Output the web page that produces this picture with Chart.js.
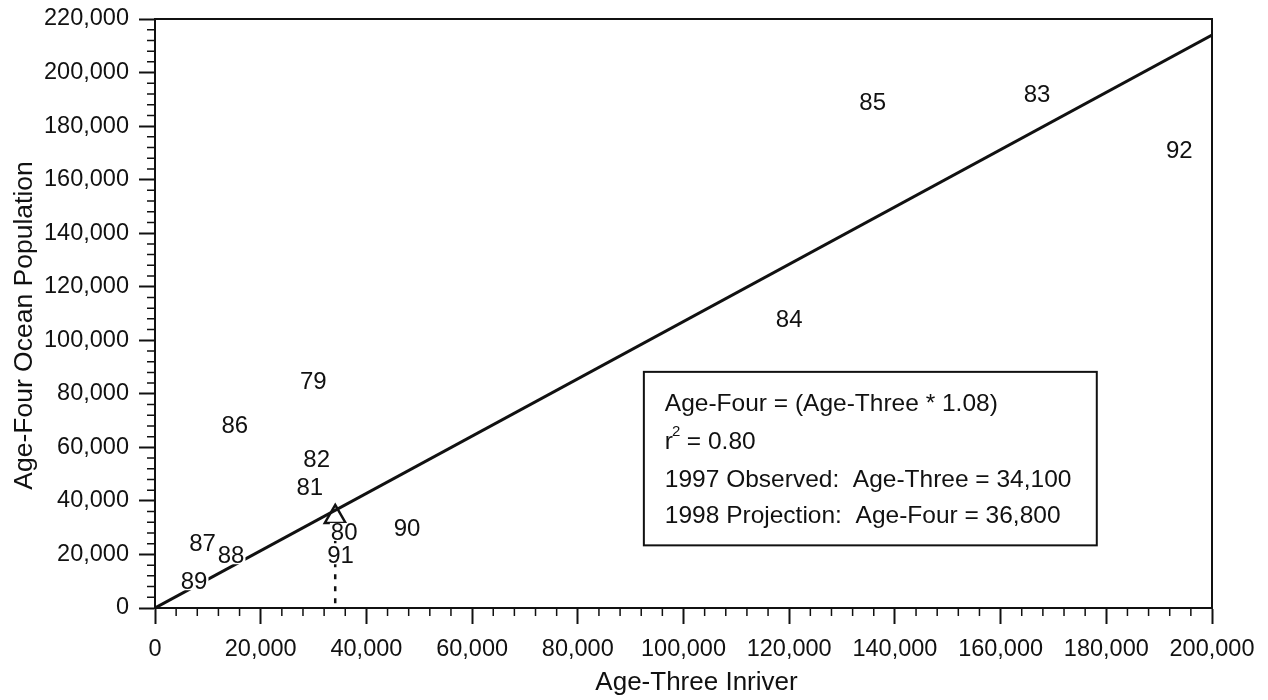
<!DOCTYPE html>
<html>
<head>
<meta charset="utf-8">
<script src="https://cdn.jsdelivr.net/npm/chart.js@4.4.1/dist/chart.umd.min.js"></script>
<style>
  body { margin: 0; background: #fff; }
  canvas { display: block; }
</style>
</head>
<body>
<canvas id="myChart" width="1268" height="700"></canvas>
<script>
// year labels and their (age-three, age-four) values
const years = ['79', '80', '81', '82', '83', '84', '85', '86', '87', '88', '89', '90', '91', '92'];
const ageThree = [29950, 35800, 29300, 30600, 166900, 120000, 135800, 15100, 9000, 14400, 7400, 47700, 35100, 193800];
const ageFour = [84500, 28400, 45200, 55600, 192000, 107900, 189000, 68300, 24300, 19700, 10000, 29700, 19700, 171100];

// regression line
const fitX = [0, 200000];
const fitY = [0, 214000];

// 1997 observed / 1998 projection marker and the drop line under it
const markerX = [34100];
const markerY = [34000];
const dropX = [34100, 34100];
const dropY = [30500, 0];

const xTicks = [0, 20000, 40000, 60000, 80000, 100000, 120000, 140000, 160000, 180000, 200000];
const yTicks = [0, 20000, 40000, 60000, 80000, 100000, 120000, 140000, 160000, 180000, 200000, 220000];

const xTitle = 'Age-Three Inriver';
const yTitle = 'Age-Four Ocean Population';

const boxLines = [
    'Age-Four = (Age-Three * 1.08)',
    'r2 = 0.80',
    '1997 Observed:  Age-Three = 34,100',
    '1998 Projection:  Age-Four = 36,800'
];

const FONT = '"Liberation Sans", Arial, Helvetica, sans-serif';

const toXY = (xs, ys) => xs.map((x, i) => ({ x: x, y: ys[i] }));

// frame round the plot + minor ticks + axis titles
const framePlugin = {
    id: 'frame',
    afterDraw(chart) {
        const c = chart.ctx;
        const a = chart.chartArea;
        const xs = chart.scales.x, ys = chart.scales.y;
        c.save();
        c.strokeStyle = '#111';
        c.lineWidth = 2;
        c.strokeRect(a.left, a.top, a.right - a.left, a.bottom - a.top);
        c.lineWidth = 1.5;
        c.beginPath();
        for (let v = 4000; v < 200000; v += 4000) {
            if (v % 20000 === 0) continue;
            const px = xs.getPixelForValue(v);
            c.moveTo(px, a.bottom);
            c.lineTo(px, a.bottom + 8);
        }
        for (let v = 4000; v < 220000; v += 4000) {
            if (v % 20000 === 0) continue;
            const py = ys.getPixelForValue(v);
            c.moveTo(a.left - 8, py);
            c.lineTo(a.left, py);
        }
        c.stroke();

        // titles (a bit off-centre in the original)
        c.fillStyle = '#111';
        c.textAlign = 'center';
        c.textBaseline = 'middle';
        c.font = '26px ' + FONT;
        c.fillText(xTitle, (a.left + a.right) / 2 + 13, 683);
        c.translate(25, (a.top + a.bottom) / 2 + 12);
        c.rotate(-Math.PI / 2);
        c.font = '26.5px ' + FONT;
        c.fillText(yTitle, 0, 0);
        c.restore();
    }
};

// year numbers drawn at the data points, with white knock-out
const yearLabels = {
    id: 'yearLabels',
    afterDatasetsDraw(chart) {
        const c = chart.ctx;
        const meta = chart.getDatasetMeta(0);
        c.save();
        c.font = '24px ' + FONT;
        c.textAlign = 'center';
        c.textBaseline = 'middle';
        meta.data.forEach((pt, i) => {
            const w = c.measureText(years[i]).width;
            c.fillStyle = '#fff';
            c.fillRect(pt.x - w / 2 - 1, pt.y - 9, w + 2, 18);
            c.fillStyle = '#111';
            c.fillText(years[i], pt.x, pt.y + 1);
        });
        c.restore();
    }
};

// equation box, placed in data units
const eqBox = {
    id: 'eqBox',
    afterDraw(chart) {
        const c = chart.ctx;
        const xs = chart.scales.x, ys = chart.scales.y;
        const l = xs.getPixelForValue(92500), r = xs.getPixelForValue(178200);
        const t = ys.getPixelForValue(88200), b = ys.getPixelForValue(23400);
        c.save();
        c.fillStyle = '#fff';
        c.fillRect(l, t, r - l, b - t);
        c.strokeStyle = '#111';
        c.lineWidth = 2;
        c.strokeRect(l, t, r - l, b - t);
        c.fillStyle = '#111';
        c.textBaseline = 'middle';
        c.textAlign = 'left';
        const rows = [t + 32, t + 70, t + 108, t + 144];
        const tx = l + 21;
        boxLines.forEach((txt, i) => {
            c.font = '24.5px ' + FONT;
            if (i === 1) {
                c.fillText('r', tx, rows[i]);
                const rw = c.measureText('r').width;
                c.font = '15px ' + FONT;
                c.fillText('2', tx + rw - 1, rows[i] - 10);
                c.font = '24.5px ' + FONT;
                c.fillText(' = 0.80', tx + rw + 7, rows[i]);
            } else {
                c.fillText(txt, tx, rows[i]);
            }
        });
        c.restore();
    }
};

var ctx = document.getElementById('myChart').getContext('2d');

var myChart = new Chart(ctx, {
    type: 'scatter',
    data: {
        datasets: [
            {
                label: 'Years',
                data: toXY(ageThree, ageFour),
                pointRadius: 0,
                showLine: false
            },
            {
                label: 'Fit',
                data: toXY(fitX, fitY),
                showLine: true,
                borderColor: '#111',
                borderWidth: 3,
                pointRadius: 0,
                fill: false
            },
            {
                label: 'Drop',
                data: toXY(dropX, dropY),
                showLine: true,
                borderColor: '#111',
                borderWidth: 2.5,
                borderDash: [5, 7],
                pointRadius: 0,
                fill: false
            },
            {
                label: 'Projection',
                data: toXY(markerX, markerY),
                pointStyle: 'triangle',
                pointRadius: 12,
                pointBorderWidth: 2.5,
                pointBorderColor: '#111',
                pointBackgroundColor: 'rgba(255,255,255,0)',
                showLine: false
            }
        ]
    },
    options: {
        responsive: false,
        animation: false,
        devicePixelRatio: 1,
        layout: { padding: { top: 19, right: 56, left: 0, bottom: 0 } },
        plugins: {
            legend: { display: false },
            tooltip: { enabled: false }
        },
        scales: {
            x: {
                type: 'linear',
                min: 0,
                max: 200000,
                afterFit: (s) => { s.height = 92; s.paddingLeft = 0; s.paddingRight = 0; },
                afterBuildTicks: (s) => { s.ticks = xTicks.map(v => ({ value: v })); },
                grid: {
                    drawOnChartArea: false,
                    tickLength: 16,
                    tickWidth: 2,
                    tickColor: '#111'
                },
                border: { display: true, color: '#111', width: 2 },
                ticks: {
                    color: '#111',
                    padding: 11,
                    maxRotation: 0,
                    font: { size: 23.5, family: FONT },
                    callback: (v) => v.toLocaleString('en-US')
                }
            },
            y: {
                type: 'linear',
                min: 0,
                max: 220000,
                afterFit: (s) => { s.width = 155; s.paddingTop = 0; s.paddingBottom = 0; },
                afterBuildTicks: (s) => { s.ticks = yTicks.map(v => ({ value: v })); },
                grid: {
                    drawOnChartArea: false,
                    tickLength: 16,
                    tickWidth: 2,
                    tickColor: '#111'
                },
                border: { display: true, color: '#111', width: 2 },
                ticks: {
                    color: '#111',
                    padding: 10,
                    font: { size: 23.5, family: FONT },
                    callback: (v) => v.toLocaleString('en-US')
                }
            }
        }
    },
    plugins: [yearLabels, framePlugin, eqBox]
});
</script>
</body>
</html>
